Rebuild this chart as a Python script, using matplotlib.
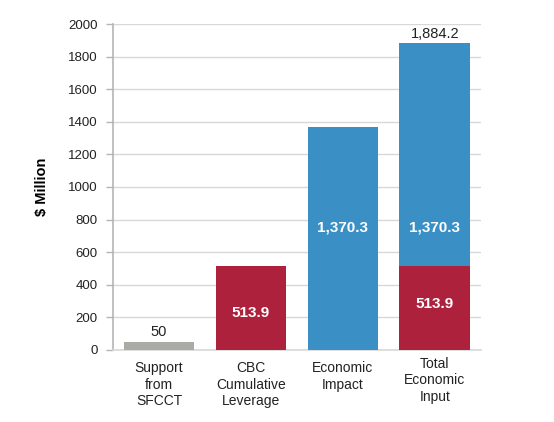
import matplotlib
matplotlib.use("Agg")
import matplotlib.pyplot as plt

categories = ["Support\nfrom\nSFCCT", "CBC\nCumulative\nLeverage", "Economic\nImpact", "Total\nEconomic\nInput"]
support = [50, 0, 0, 0]
leverage = [0, 513.9, 0, 513.9]
impact = [0, 0, 1370.3, 1370.3]
total_label = "1,884.2"

GRAY = "#ababa6"
RED = "#ad213c"
BLUE = "#3a8fc4"

plt.rcParams["font.family"] = ["Liberation Sans", "DejaVu Sans"]

fig = plt.figure(figsize=(5.54, 4.22), dpi=100)
ax = fig.add_axes([0.204, 0.171, 0.664, 0.772])

x = list(range(len(categories)))
w = 0.77
ax.bar(x, support, w, color=GRAY, zorder=3)
ax.bar(x, leverage, w, color=RED, zorder=3)
ax.bar(x, impact, w, bottom=leverage, color=BLUE, zorder=3)

# value labels
ax.text(0, support[0] + 60, "50", ha="center", va="center", fontsize=10.5, color="#222222")
ax.text(1, leverage[1] * 0.44, "513.9", ha="center", va="center", fontsize=11,
        fontweight="bold", color="white", zorder=4)
ax.text(3, leverage[3] * 0.55, "513.9", ha="center", va="center", fontsize=11,
        fontweight="bold", color="white", zorder=4)
ax.text(2, impact[2] * 0.546, "1,370.3", ha="center", va="center", fontsize=11,
        fontweight="bold", color="white", zorder=4)
ax.text(3, impact[3] * 0.546, "1,370.3", ha="center", va="center", fontsize=11,
        fontweight="bold", color="white", zorder=4)
ax.text(3, leverage[3] + impact[3] + 12, total_label, ha="center", va="bottom",
        fontsize=10.5, color="#222222")

ax.set_xlim(-0.5, 3.5)
ax.set_ylim(0, 2000)
ax.set_yticks(range(0, 2001, 200))
ax.set_xticks(x)
ax.set_xticklabels(categories, fontsize=10, color="#222222", linespacing=1.25)
ax.tick_params(axis="x", length=0, pad=8)
ax.tick_params(axis="y", length=5, width=1, color="#b5b5b5", labelsize=9.5,
               labelcolor="#222222", pad=6)
# last label sits a bit higher in the reference
ax.get_xticklabels()[3].set_y(0.013)

ax.grid(axis="y", color="#d8d8d8", linewidth=1, zorder=0)
for s in ["top", "right"]:
    ax.spines[s].set_visible(False)
ax.spines["left"].set_color("#b5b5b5")
ax.spines["bottom"].set_color("#d8d8d8")
ax.spines["left"].set_linewidth(1.2)
ax.spines["bottom"].set_linewidth(1.2)

ax.set_ylabel("$ Million", fontsize=10.5, fontweight="bold", labelpad=14)

fig.savefig("out.png", dpi=100)
